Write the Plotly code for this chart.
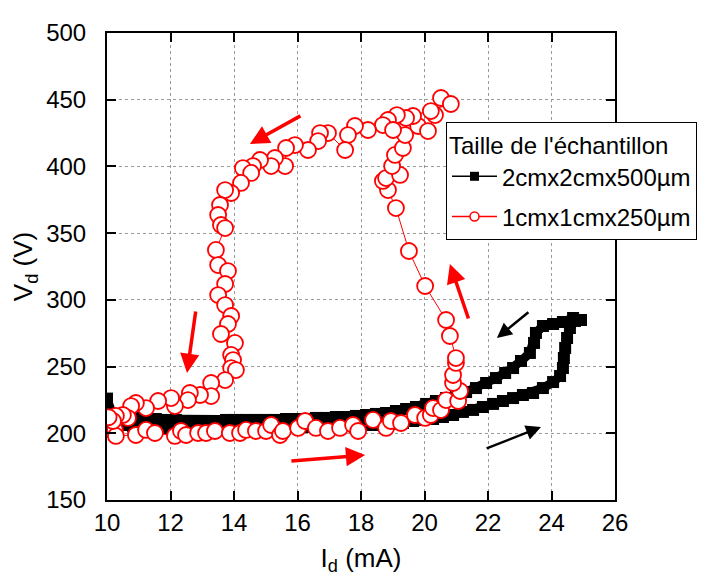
import plotly.graph_objects as go

# ---------------- data ----------------
# Sample 2cm x 2cm x 500 µm (black squares): lower branch -> right side -> upper branch
black_id = [10.00, 10.22, 10.50, 10.82, 11.13, 11.45, 11.76, 12.08, 12.39, 12.71, 13.02,
            13.34, 13.65, 13.97, 14.28, 14.60, 14.91, 15.23, 15.54, 15.86, 16.17,
            16.49, 16.80, 17.12, 17.43, 17.75, 18.06, 18.38, 18.69, 19.01, 19.32,
            19.64, 19.95, 20.27, 20.58, 20.90, 21.21, 21.53, 21.84, 22.16, 22.47,
            22.79, 23.10, 23.42, 23.73, 24.05, 24.27, 24.36, 24.39, 24.43, 24.49,
            24.58, 24.74, 24.93,
            24.68, 24.36, 24.05, 23.73, 23.51, 23.45, 23.32, 23.04, 22.79, 22.54,
            22.25, 21.94, 21.62, 21.31, 20.99, 20.68, 20.36, 20.05, 19.73, 19.42,
            19.10, 18.79, 18.47, 18.16, 17.84, 17.53, 17.21, 16.90, 16.58, 16.27,
            15.95, 15.64, 15.32, 15.01, 14.69, 14.38, 14.06, 13.75, 13.43, 13.12,
            12.80, 12.49, 12.17, 11.86, 11.54, 11.23, 10.91, 10.60, 10.28]
black_vd = [226.0, 210.5, 206.2, 205.5, 204.7, 204.7, 204.0, 204.0, 204.0, 204.0, 204.0,
            204.0, 204.0, 204.0, 204.0, 204.0, 204.0, 204.7, 204.7, 204.7, 204.7,
            205.5, 205.5, 205.5, 205.5, 205.5, 206.2, 206.2, 207.0, 207.0, 207.7,
            209.2, 210.0, 210.7, 212.2, 213.7, 216.0, 217.5, 219.7, 222.0, 224.2,
            226.4, 228.7, 230.2, 233.9, 238.4, 242.9, 248.9, 256.4, 263.9, 271.4,
            278.9, 284.2, 284.9,
            286.4, 283.4, 281.9, 280.4, 275.2, 267.7, 260.2, 254.2, 248.9, 245.2,
            241.4, 237.7, 233.9, 230.9, 228.7, 226.4, 224.2, 222.0, 219.7, 218.2,
            216.7, 215.2, 214.5, 213.7, 213.0, 212.2, 212.2, 211.5, 211.5, 210.7,
            210.7, 210.7, 210.0, 210.0, 210.0, 210.0, 210.0, 210.0, 209.2, 209.2,
            209.2, 209.2, 210.0, 210.0, 210.7, 210.7, 211.5, 212.2, 213.0]

# Sample 1cm x 1cm x 250 µm (red open circles)
red_id = [10.10, 10.25, 10.28, 10.91, 11.23, 11.51, 12.14, 12.33, 12.49, 12.87, 13.12,
          13.40, 13.87, 14.19, 14.38, 14.69, 15.01, 15.17, 15.45, 15.54, 16.02,
          16.24, 16.58, 16.96, 17.34, 17.75, 17.91, 18.38, 18.79, 18.94, 19.26,
          19.70, 20.02, 20.20, 20.27, 20.52, 20.68, 21.06, 21.12, 20.90, 20.90,
          20.99, 20.99, 20.80, 20.68, 20.02, 19.51, 19.10, 18.85, 18.69, 18.79,
          19.23, 18.98, 19.07, 19.32, 19.39, 19.80, 20.11, 20.33, 20.20, 20.52,
          20.83,
          19.64, 19.42, 19.13, 18.85, 18.69, 19.01, 18.22, 17.81, 17.59, 17.50,
          16.96, 16.71, 16.65, 16.33, 15.92, 15.64, 15.61, 15.29, 15.17, 14.82,
          14.60, 14.28, 14.54, 14.22, 13.91, 13.72, 13.56, 13.50, 13.59, 13.72,
          13.43, 13.50, 13.81, 13.72, 13.50, 13.72, 13.91, 13.81, 13.59, 14.03,
          13.91, 13.97, 13.91, 14.06, 13.72, 13.28, 13.28, 12.93, 12.61, 12.55,
          12.14, 12.02, 11.61, 11.23, 10.91, 10.76, 10.66, 10.50, 10.28, 10.19,
          10.05]
red_vd = [203.0, 202.5, 198.0, 198.7, 202.5, 200.2, 198.0, 201.7, 198.7, 200.2, 200.2,
          201.7, 200.2, 200.2, 202.5, 201.7, 201.7, 206.2, 198.7, 201.7, 204.0,
          209.2, 204.0, 201.7, 204.0, 206.2, 201.7, 210.0, 204.0, 209.2, 207.7,
          213.7, 211.5, 213.7, 218.9, 217.4, 224.9, 224.2, 231.7, 237.7, 243.7,
          252.7, 256.4, 272.9, 284.9, 310.4, 336.6, 368.8, 382.3, 389.1, 391.3,
          393.6, 400.3, 408.6, 413.8, 423.5, 430.3, 426.5, 438.5, 441.5, 451.3,
          446.8,
          437.8, 436.3, 438.5, 434.8, 431.0, 427.3, 427.3, 430.3, 423.5, 412.3,
          425.0, 425.0, 419.0, 412.3, 416.0, 413.8, 400.3, 406.3, 400.3, 404.8,
          400.3, 398.8, 395.1, 387.6, 380.1, 382.3, 371.1, 363.6, 356.1, 353.8,
          337.4, 326.1, 321.6, 311.9, 303.6, 296.1, 287.9, 281.9, 274.4, 267.7,
          258.7, 254.9, 248.9, 247.4, 239.9, 237.7, 227.9, 228.7, 230.2, 224.9,
          220.4, 226.4, 224.2, 218.9, 222.7, 220.4, 211.5, 213.7, 213.0, 209.2,
          212.0]

series_names = ["2cmx2cmx500µm", "1cmx1cmx250µm"]
legend_title = "Taille de l'échantillon"

# direction arrows: (tail I, tail V, head I, head V, colour)
arrow_tail_i = [16.14, 12.80, 15.76, 21.40, 23.32, 21.91]
arrow_tail_v = [438.5, 292.4, 179.2, 284.9, 291.6, 188.2]
arrow_head_i = [14.50, 12.52, 18.13, 20.80, 22.28, 23.67]
arrow_head_v = [416.8, 245.2, 183.7, 326.9, 271.4, 204.7]
arrow_colors = ["red", "red", "red", "red", "black", "black"]

x_range = [10, 26]
y_range = [150, 500]

# ---------------- figure ----------------
FONT = "Liberation Sans, Arial, sans-serif"
fig = go.Figure()

fig.add_trace(go.Scatter(
    x=black_id, y=black_vd, mode="lines+markers", showlegend=False,
    line=dict(color="black", width=9),
    marker=dict(symbol="square", size=12, color="black"),
    cliponaxis=True))

fig.add_trace(go.Scatter(
    x=red_id, y=red_vd, mode="lines+markers", showlegend=False,
    line=dict(color="red", width=1),
    marker=dict(symbol="circle", size=16, color="white",
                line=dict(color="red", width=1.8)),
    cliponaxis=True))

# legend-only entries (small symbols as in the reference)
fig.add_trace(go.Scatter(
    x=[None], y=[None], mode="lines+markers", name=series_names[0],
    legendgroup="a",
    line=dict(color="black", width=1.5),
    marker=dict(symbol="square", size=9, color="black")))
fig.add_trace(go.Scatter(
    x=[None], y=[None], mode="lines+markers", name=series_names[1],
    legendgroup="b",
    line=dict(color="red", width=1.5),
    marker=dict(symbol="circle", size=9, color="white",
                line=dict(color="red", width=1.5))))

for ti, tv, hi, hv, c in zip(arrow_tail_i, arrow_tail_v, arrow_head_i, arrow_head_v, arrow_colors):
    fig.add_annotation(
        x=hi, y=hv, ax=ti, ay=tv, xref="x", yref="y", axref="x", ayref="y",
        text="", showarrow=True, arrowhead=2,
        arrowsize=1.1 if c == "red" else 1.2,
        arrowwidth=3.5 if c == "red" else 2.5,
        arrowcolor=c, standoff=0, startstandoff=0)

axis_common = dict(
    showline=True, linecolor="black", linewidth=2, mirror="ticks",
    ticks="inside", ticklen=9, tickwidth=2, tickcolor="black",
    showgrid=True, gridcolor="#9a9a9a", gridwidth=1, griddash="3px,3px",
    zeroline=False, tickfont=dict(family=FONT, size=24, color="black"),
)

fig.update_xaxes(range=x_range, dtick=2, tick0=10,
                 title=dict(text="I<sub>d</sub> (mA)", font=dict(family=FONT, size=26, color="black"),
                            standoff=14),
                 **axis_common)
fig.update_yaxes(range=y_range, dtick=50, tick0=150, ticklabelstandoff=14,
                 title=dict(text="V<sub>d</sub> (V)", font=dict(family=FONT, size=26, color="black"),
                            standoff=6),
                 **axis_common)

fig.update_layout(
    width=705, height=577,
    margin=dict(l=99, r=98, t=25, b=85, autoexpand=False),
    paper_bgcolor="white", plot_bgcolor="white",
    font=dict(family=FONT, color="black"),
    legend=dict(
        x=(438 - 99) / 508, y=(492 - 114) / 467, xanchor="left", yanchor="top",
        bgcolor="white", bordercolor="black", borderwidth=1,
        font=dict(family=FONT, size=24, color="black"),
        title=dict(text=legend_title, font=dict(family=FONT, size=24, color="black")),
        itemwidth=45, traceorder="grouped", tracegroupgap=6,
    ),
)

fig.write_html("out.html")
